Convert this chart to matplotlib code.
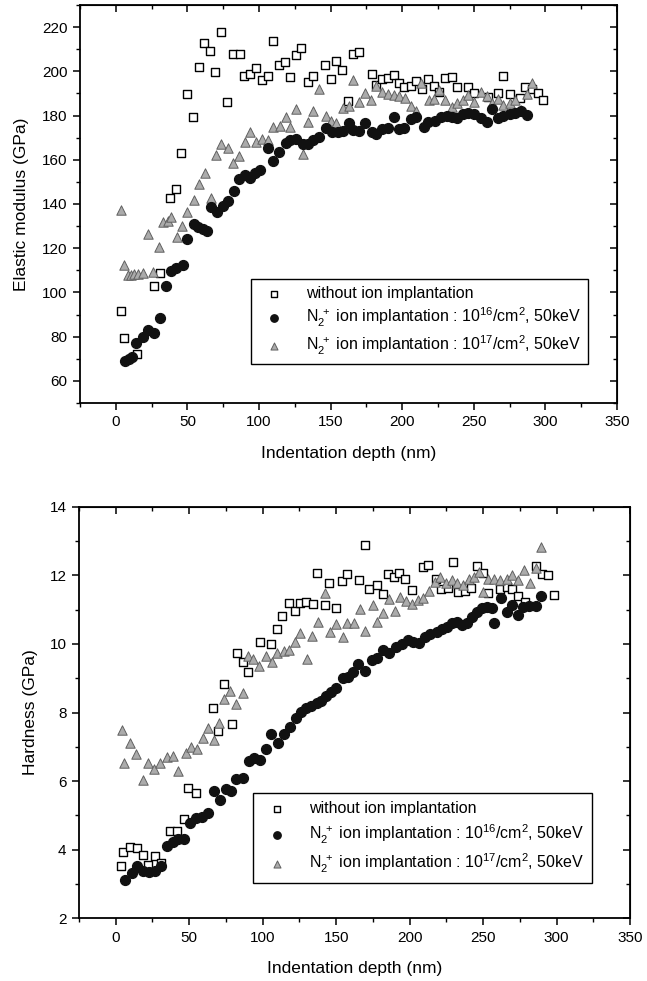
import matplotlib
matplotlib.use("Agg")
import matplotlib.pyplot as plt
from matplotlib.ticker import MultipleLocator

plt.rcParams['font.family'] = ['Liberation Sans', 'DejaVu Sans']
plt.rcParams['mathtext.fontset'] = 'custom'
plt.rcParams['mathtext.rm'] = 'Liberation Sans'
plt.rcParams['mathtext.it'] = 'Liberation Sans'

# ---- elastic modulus (GPa) vs indentation depth (nm) ----
e_sq_x = [3.5, 5.6, 15, 26.5, 30.7, 37.7, 42, 45.4, 49.5, 53.7, 57.9, 61.4, 65.6, 69.1, 73.3, 78,
          81.6, 86.5, 89.3, 93.5, 97.7, 101.9, 106, 109.6, 113.7, 118, 122, 126, 129, 134, 137.5,
          146, 150, 153.5, 158, 162, 166, 170, 178.6, 182, 185.6, 189.8, 194, 197.5, 201, 205.9,
          210, 214, 217.7, 222, 226, 230, 234.5, 238.6, 246, 250.5, 259.6, 266.6, 270.7, 275,
          282.6, 286, 291, 295, 298.6]
e_sq_y = [91.6, 79.4, 72, 103, 109, 142.7, 147, 163, 189.7, 179.3, 202, 212.8, 209, 199.7, 218, 186,
          207.8, 207.8, 198, 199, 201.5, 196, 198, 213.7, 202.8, 204, 197.6, 207.5, 210.6, 195, 198,
          203, 196.5, 204.6, 200.5, 186.6, 208, 208.7, 198.8, 194, 196.5, 197, 198.3, 194.7, 192.9, 193.3,
          195.5, 192, 196.5, 193.3, 190.6, 197, 197.4, 193, 193, 190.2, 188.4, 190.2, 198, 189.7,
          188, 193, 192, 190.2, 187]

e_c16_x = [6.3, 9, 11, 14, 18.8, 22.3, 26.5, 30.7, 35, 38.4, 41.9, 46.8, 50, 54.4, 57.2, 60.7, 63.5,
           66.3, 70.5, 74.7, 78.2, 82.3, 85.8, 90, 93.5, 97, 101, 106, 110, 113.7, 118.6, 122, 126,
           130.5, 134, 138, 142, 146.5, 150.7, 155, 158.4, 162.6, 166, 170, 173.8, 178.6, 182, 186,
           190, 194, 197.5, 201, 206, 210, 215, 218, 222.6, 226.8, 231, 235, 238.6, 242.8, 246.3,
           250.5, 254.7, 259, 263, 266.6, 270.7, 275, 279, 283, 287.5]
e_c16_y = [69, 70, 70.8, 77, 80, 83, 81.7, 88.5, 103, 109.7, 111, 112.4, 124, 131, 129.6, 128.7, 127.8,
           138.6, 136.4, 139, 141.4, 146, 151.3, 153, 151.7, 154, 155.4, 165.3, 159.4, 163.5, 167.6, 169, 169.4,
           167, 167, 169, 170.3, 174.3, 172.5, 172.5, 173, 176.6, 173.4, 173, 176.6, 172.5, 171.6, 174,
           174.3, 179.3, 174, 174.3, 178.4, 179.3, 175, 177, 177.5, 179.3, 180, 179.3, 178.8, 180.7, 181,
           180.7, 178.8, 177, 183, 178.8, 179.8, 180.7, 181, 182, 180.2]

e_t17_x = [3.5, 5.6, 8.4, 10.5, 12.6, 15.4, 18.8, 22.3, 25.8, 30, 32.8, 36.3, 38.4, 42.6, 46, 50, 54.4,
           58, 62, 66.3, 69.8, 73.3, 78.2, 81.6, 85.8, 90, 94, 97.7, 102, 106, 110, 114.4, 118.6, 122,
           126, 130.5, 134, 138, 141.7, 146.5, 150, 154, 158.4, 162.6, 166, 170, 173.8, 178, 182, 186,
           190, 194, 197.5, 201.7, 206, 210, 212.8, 218.4, 222, 226, 230, 234.5, 238.6, 242.8, 246.3,
           250.5, 254.7, 259, 263, 266.6, 270.7, 275, 279, 283, 287, 291]
e_t17_y = [137.3, 112.4, 108, 108, 108.4, 108.4, 108.8, 126.4, 109.3, 120.6, 132, 132.3, 134, 125, 130, 136.4, 141.8,
           149, 154, 142.7, 162, 167, 165.3, 158.5, 161.7, 168, 172.5, 168, 169.4, 169, 174.8, 175.3, 179.3, 174.8,
           183, 162.6, 177, 182, 192, 179.8, 177.5, 176.6, 183.4, 184.3, 196, 186, 190, 187, 193.3, 190.6,
           189.7, 189.3, 188.8, 188, 184.3, 182, 194.7, 187, 187.4, 191.5, 187, 183.8, 185.6, 187, 189.3,
           186, 190.6, 188.8, 185.6, 187.4, 184.7, 185.6, 187, 182.5, 189.7, 194.7]

# ---- hardness (GPa) vs indentation depth (nm) ----
h_sq_x = [3.9, 4.8, 9.5, 14.3, 18.4, 21.8, 26.6, 30.7, 36.8, 41.6, 46.4, 49, 54.5, 66, 69.5, 73.6, 79,
          82.5, 86.6, 90, 98, 105.7, 109.7, 113, 118, 122, 125.4, 129.5, 134, 137, 142.5, 145, 150,
          154, 157.5, 165.6, 169.7, 172.5, 178, 182, 185.4, 189.5, 193, 197, 201.8, 209, 212.7, 218,
          221.5, 226.3, 229.7, 233, 238, 242, 246, 250, 253.6, 261.8, 266, 270, 274, 278.8, 286, 290,
          294, 298.6]
h_sq_y = [3.51, 3.94, 4.06, 4.03, 3.85, 3.56, 3.8, 3.62, 4.55, 4.55, 4.9, 5.8, 5.66, 8.14, 7.47, 8.84, 7.67,
          9.74, 9.48, 9.19, 10.06, 10.0, 10.44, 10.82, 11.2, 10.97, 11.2, 11.23, 11.17, 12.08, 11.14, 11.78, 11.06,
          11.84, 12.05, 11.87, 12.9, 11.6, 11.73, 11.46, 12.05, 11.96, 12.08, 11.9, 11.58, 12.25, 12.3, 11.9,
          11.6, 11.64, 12.4, 11.52, 11.55, 11.64, 12.28, 12.08, 11.5, 11.6, 11.67, 11.6, 11.4, 11.23, 12.28, 12.05,
          12.0, 11.43]

h_c16_x = [6, 11, 14.3, 18.4, 22.5, 26.6, 30.7, 34.8, 38.9, 42.3, 46.4, 50.4, 54.5, 58.6, 62.7, 66.8,
           70.9, 75, 78.4, 81.8, 86.6, 90.7, 94, 98, 102, 106, 110.4, 114.5, 118.6, 122.7, 126, 129.5,
           133, 137, 139.7, 143, 146.6, 150, 154.7, 158, 161.5, 165, 169.7, 174.5, 178, 182, 186, 191,
           195, 199, 202.5, 206.5, 210.6, 214, 218.8, 222, 225.6, 229, 232.5, 236, 239, 242.7, 246,
           249.5, 253, 256, 257.7, 262.5, 266, 270, 274, 277.4, 281.5, 286, 289.7]
h_c16_y = [3.1, 3.3, 3.53, 3.36, 3.33, 3.36, 3.53, 4.09, 4.23, 4.32, 4.32, 4.76, 4.93, 4.96, 5.08, 5.72,
           5.46, 5.78, 5.72, 6.07, 6.1, 6.57, 6.68, 6.6, 6.92, 7.38, 7.12, 7.38, 7.59, 7.85, 8.02, 8.14,
           8.2, 8.29, 8.34, 8.49, 8.6, 8.72, 9.01, 9.04, 9.19, 9.42, 9.22, 9.54, 9.6, 9.83, 9.74, 9.92,
           10.0, 10.12, 10.06, 10.03, 10.2, 10.3, 10.36, 10.44, 10.5, 10.62, 10.65, 10.56, 10.62, 10.8, 10.94,
           11.06, 11.08, 11.06, 10.62, 11.35, 10.94, 11.14, 10.85, 11.08, 11.11, 11.11, 11.4]

h_t17_x = [4, 5.5, 10, 13.6, 18.4, 21.8, 26, 30, 34.8, 38.9, 42.3, 47.7, 51, 55, 59.3, 62.7, 66.8, 70.2,
           73.6, 77.7, 81.8, 86.6, 90, 93.4, 97.5, 102, 106.3, 109.7, 114.5, 118, 122, 125.4, 130, 133.6,
           137.7, 142.5, 146, 150, 154.7, 157.5, 162, 166.3, 169.7, 175, 178, 182, 186, 190, 193.6, 197.7,
           201.8, 206, 209.3, 213.4, 217.5, 221, 225, 229, 232.5, 236.5, 240.6, 244, 247.4, 250, 253.6,
           257.7, 261.8, 266, 270, 274, 278, 282, 286, 289.7]
h_t17_y = [7.5, 6.54, 7.12, 6.8, 6.04, 6.54, 6.36, 6.54, 6.71, 6.74, 6.3, 6.83, 7.0, 6.92, 7.27, 7.56, 7.2, 7.7,
           8.4, 8.64, 8.26, 8.58, 9.66, 9.57, 9.36, 9.66, 9.48, 9.74, 9.8, 9.83, 10.06, 10.33, 9.57, 10.24,
           10.65, 11.5, 10.36, 10.59, 10.2, 10.62, 10.62, 11.03, 10.38, 11.14, 10.65, 10.9, 11.3, 10.97, 11.38, 11.26,
           11.17, 11.29, 11.35, 11.55, 11.8, 11.96, 11.78, 11.87, 11.78, 11.73, 11.9, 11.96, 12.1, 11.52, 11.9,
           11.9, 11.87, 11.9, 12.02, 11.87, 12.16, 11.78, 12.22, 12.83]

labels = ['without ion implantation',
          r'N$_2^{\ +}$ ion implantation : 10$^{16}$/cm$^2$, 50keV',
          r'N$_2^{\ +}$ ion implantation : 10$^{17}$/cm$^2$, 50keV']


def style_axes(ax, ylim, ymaj, ymin):
    ax.set_xlim(-25, 350)
    ax.set_ylim(*ylim)
    ax.xaxis.set_major_locator(MultipleLocator(50))
    ax.xaxis.set_minor_locator(MultipleLocator(25))
    ax.yaxis.set_major_locator(MultipleLocator(ymaj))
    ax.yaxis.set_minor_locator(MultipleLocator(ymin))
    ax.tick_params(which='major', direction='out', length=5, width=1.1, labelsize=11, pad=4)
    ax.tick_params(which='minor', direction='out', length=3, width=1.0)
    for s in ax.spines.values():
        s.set_linewidth(1.3)
    # inward ticks on top and right
    top = ax.secondary_xaxis('top')
    top.xaxis.set_major_locator(MultipleLocator(50))
    top.xaxis.set_minor_locator(MultipleLocator(25))
    top.tick_params(which='both', direction='in', labeltop=False)
    top.tick_params(which='major', length=5, width=1.1)
    top.tick_params(which='minor', length=3, width=1.0)
    right = ax.secondary_yaxis('right')
    right.yaxis.set_major_locator(MultipleLocator(ymaj))
    right.yaxis.set_minor_locator(MultipleLocator(ymin))
    right.tick_params(which='both', direction='in', labelright=False)
    right.tick_params(which='major', length=5, width=1.1)
    right.tick_params(which='minor', length=3, width=1.0)


def draw(ax, sx, sy, cx, cy, tx, ty):
    h1 = ax.scatter(sx, sy, marker='s', s=40, facecolors='white', edgecolors='black', linewidths=1.0, zorder=3)
    h2 = ax.scatter(cx, cy, marker='o', s=50, color='#111111', zorder=4)
    h3 = ax.scatter(tx, ty, marker='^', s=46, facecolors='#ababab', edgecolors='#606060', linewidths=0.7, zorder=3)
    return [h1, h2, h3]


fig = plt.figure(figsize=(6.47, 9.81), dpi=100)

ax1 = fig.add_axes([0.1236, 0.5892, 0.830, 0.4057])
hs = draw(ax1, e_sq_x, e_sq_y, e_c16_x, e_c16_y, e_t17_x, e_t17_y)
style_axes(ax1, (50, 230), 20, 10)
ax1.set_xlabel('Indentation depth (nm)', fontsize=12.5, labelpad=12)
ax1.set_ylabel('Elastic modulus (GPa)', fontsize=12.5, labelpad=9)
leg1 = ax1.legend(hs, labels, loc='lower right', bbox_to_anchor=(0.946, 0.098), borderaxespad=0,
                  fontsize=11.5, frameon=True, fancybox=False, edgecolor='black', framealpha=1,
                  handletextpad=1.0, borderpad=0.45, labelspacing=0.3, scatterpoints=1,
                  markerscale=0.75)
leg1.get_frame().set_linewidth(1.0)

ax2 = fig.add_axes([0.1221, 0.0642, 0.8516, 0.419])
hs = draw(ax2, h_sq_x, h_sq_y, h_c16_x, h_c16_y, h_t17_x, h_t17_y)
style_axes(ax2, (2, 14), 2, 1)
ax2.set_xlabel('Indentation depth (nm)', fontsize=12.5, labelpad=12)
ax2.set_ylabel('Hardness (GPa)', fontsize=12.5, labelpad=8)
leg2 = ax2.legend(hs, labels, loc='lower right', bbox_to_anchor=(0.931, 0.085), borderaxespad=0,
                  fontsize=11.5, frameon=True, fancybox=False, edgecolor='black', framealpha=1,
                  handletextpad=1.0, borderpad=0.5, labelspacing=0.4, scatterpoints=1,
                  markerscale=0.75)
leg2.get_frame().set_linewidth(1.0)

fig.savefig('out.png', dpi=100)
